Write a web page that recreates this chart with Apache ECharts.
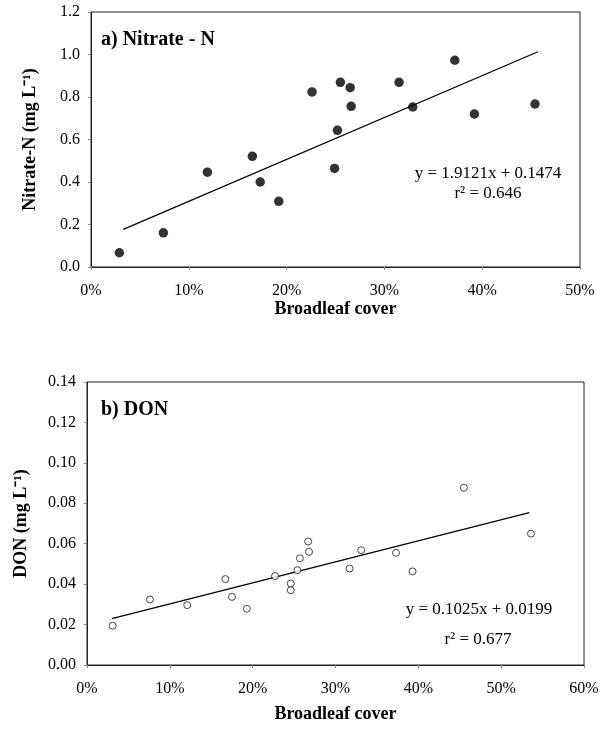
<!DOCTYPE html>
<html>
<head>
<meta charset="utf-8">
<script src="https://cdn.jsdelivr.net/npm/echarts@6/dist/echarts.min.js"></script>
<style>
html,body{margin:0;padding:0;background:#fff;}
#chart{width:613px;height:737px;}
</style>
</head>
<body>
<div id="chart"></div>
<script>
// ---- data (Broadleaf cover in %, concentrations in mg/L) ----
const nitrateCover = [2.9, 7.4, 11.9, 16.5, 17.3, 19.2, 22.6, 24.9, 25.2, 25.5, 26.5, 26.6, 31.5, 32.9, 37.2, 39.2, 45.4];
const nitrateValue = [0.067, 0.161, 0.446, 0.521, 0.400, 0.309, 0.824, 0.464, 0.643, 0.869, 0.844, 0.756, 0.869, 0.753, 0.973, 0.720, 0.767];
const nitrateTrendCover = [3.3, 45.7];
const nitrateTrendValue = [0.177, 1.013];

const donCover = [3.1, 7.6, 12.1, 16.7, 17.5, 19.3, 22.7, 24.6, 24.6, 25.4, 25.7, 26.8, 26.7, 31.7, 33.1, 37.3, 39.3, 45.5, 53.6];
const donValue = [0.0194, 0.0324, 0.0296, 0.0425, 0.0337, 0.0278, 0.0440, 0.0403, 0.0370, 0.0469, 0.0528, 0.0560, 0.0611, 0.0477, 0.0568, 0.0555, 0.0463, 0.0877, 0.0650];
const donTrendCover = [3.0, 53.4];
const donTrendValue = [0.0229, 0.0754];

const panelTitles = ['a) Nitrate - N', 'b) DON'];
const equations = ['y = 1.9121x + 0.1474', 'y = 0.1025x + 0.0199'];
const rSquared = ['r\u00b2 = 0.646', 'r\u00b2 = 0.677'];
const yNames = ['Nitrate-N (mg L\u207b\u00b9)', 'DON (mg L\u207b\u00b9)'];
const xName = 'Broadleaf cover';

// ---- helpers ----
const FONT = '"Liberation Serif", "Times New Roman", serif';
const zip = (a, b) => a.map((v, i) => [v, b[i]]);

function xAxis(gridIndex, max, gap) {
  return {
    type: 'value', gridIndex, min: 0, max, interval: 10,
    name: xName, nameLocation: 'middle', nameGap: gap,
    nameTextStyle: {fontFamily: FONT, fontSize: 18, fontWeight: 'bold', color: '#000'},
    axisLine: {show: true, onZero: false, lineStyle: {color: '#222', width: 1}},
    axisTick: {show: true, inside: false, length: 3, lineStyle: {color: '#888'}},
    axisLabel: {fontFamily: FONT, fontSize: 16, color: '#000', margin: 16, formatter: v => v + '%'},
    splitLine: {show: false}
  };
}
function yAxis(gridIndex, max, interval, dec, gap) {
  return {
    type: 'value', gridIndex, min: 0, max, interval,
    name: yNames[gridIndex], nameLocation: 'middle', nameGap: gap, nameRotate: 90,
    nameTextStyle: {fontFamily: FONT, fontSize: 18, fontWeight: 'bold', color: '#000'},
    axisLine: {show: true, onZero: false, lineStyle: {color: '#222', width: 1}},
    axisTick: {show: true, inside: false, length: 3, lineStyle: {color: '#888'}},
    axisLabel: {fontFamily: FONT, fontSize: 16, color: '#000', margin: 11, formatter: v => v.toFixed(dec)},
    splitLine: {show: false}
  };
}

const chart = echarts.init(document.getElementById('chart'), null, {renderer: 'canvas'});
chart.setOption({
  animation: false,
  backgroundColor: '#fff',
  grid: [
    {left: 91, right: 33, top: 12, height: 255, show: true, borderColor: '#222', borderWidth: 1, backgroundColor: 'transparent'},
    {left: 87, right: 29, top: 382, height: 283, show: true, borderColor: '#222', borderWidth: 1, backgroundColor: 'transparent'}
  ],
  xAxis: [xAxis(0, 50, 33), xAxis(1, 60, 40)],
  yAxis: [yAxis(0, 1.2, 0.2, 1, 52), yAxis(1, 0.14, 0.02, 2, 57)],
  title: [
    {text: panelTitles[0], left: 101, top: 30, padding: 0, textStyle: {fontFamily: FONT, fontSize: 20, fontWeight: 'bold', color: '#000'}},
    {text: panelTitles[1], left: 101, top: 400, padding: 0, textStyle: {fontFamily: FONT, fontSize: 20, fontWeight: 'bold', color: '#000'}}
  ],
  graphic: [
    {type: 'text', x: 488, y: 174, style: {text: equations[0], font: '17px ' + FONT, fill: '#000', align: 'center', verticalAlign: 'middle'}},
    {type: 'text', x: 488, y: 194, style: {text: rSquared[0], font: '17px ' + FONT, fill: '#000', align: 'center', verticalAlign: 'middle'}},
    {type: 'text', x: 479, y: 610, style: {text: equations[1], font: '17px ' + FONT, fill: '#000', align: 'center', verticalAlign: 'middle'}},
    {type: 'text', x: 478, y: 640, style: {text: rSquared[1], font: '17px ' + FONT, fill: '#000', align: 'center', verticalAlign: 'middle'}}
  ],
  series: [
    {type: 'line', xAxisIndex: 0, yAxisIndex: 0, data: zip(nitrateTrendCover, nitrateTrendValue), symbol: 'none', lineStyle: {color: '#000', width: 1.3}, z: 2},
    {type: 'scatter', xAxisIndex: 0, yAxisIndex: 0, data: zip(nitrateCover, nitrateValue), symbol: 'circle', symbolSize: 9.5, itemStyle: {color: '#000'}, z: 3},
    {type: 'line', xAxisIndex: 1, yAxisIndex: 1, data: zip(donTrendCover, donTrendValue), symbol: 'none', lineStyle: {color: '#000', width: 1.3}, z: 2},
    {type: 'scatter', xAxisIndex: 1, yAxisIndex: 1, data: zip(donCover, donValue), symbol: 'circle', symbolSize: 7, itemStyle: {color: '#fff', borderColor: '#000', borderWidth: 0.9}, z: 3}
  ]
});
</script>
</body>
</html>
